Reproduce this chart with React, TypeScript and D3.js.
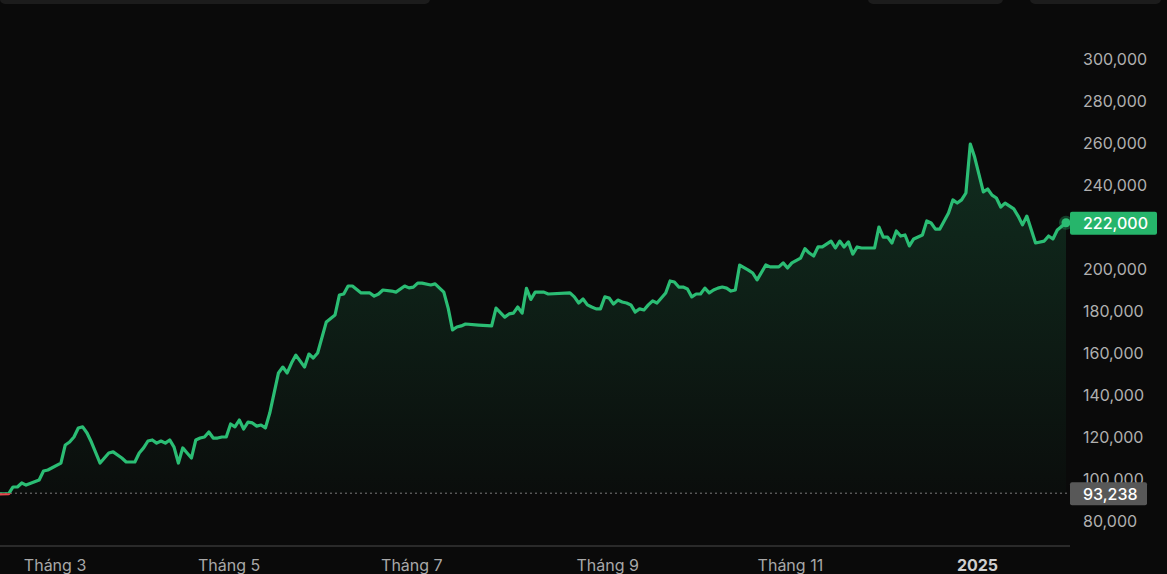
import React from "react";
import * as d3 from "d3";

// [bar index, closing price]
const closes: [number, number][] = [
  [0, 92900], [2, 93000], [3, 96200], [4, 96200], [5, 98100], [6, 97100], [9, 99500], [10, 103800],
  [11, 104300], [14, 107600], [15, 116200], [16, 117600], [17, 120000], [18, 124300], [19, 124800],
  [20, 121900], [21, 117600], [23, 107600], [25, 112400], [26, 112900], [28, 110000], [29, 108100],
  [31, 108100], [32, 112400], [33, 114800], [34, 118100], [35, 118600], [36, 117100], [37, 118100],
  [38, 117100], [39, 118600], [40, 115200], [41, 107600], [42, 114800], [43, 112400], [44, 110000],
  [45, 118600], [46, 119500], [47, 120000], [48, 122400], [49, 119500], [50, 119500], [51, 120000],
  [52, 120000], [53, 126200], [54, 124800], [55, 128100], [56, 123800], [57, 127100], [58, 126700],
  [59, 125200], [60, 125700], [61, 124300], [62, 131400], [64, 150500], [65, 153300], [66, 150500],
  [67, 155200], [68, 159000], [70, 153300], [71, 159500], [72, 157600], [73, 160000], [75, 174800],
  [77, 178100], [78, 187600], [79, 188100], [80, 191900], [81, 191900], [83, 188600], [85, 188600],
  [86, 187100], [87, 188100], [88, 190000], [90, 189500], [91, 189000], [93, 191900], [94, 191000],
  [95, 191400], [96, 193300], [97, 193300], [99, 192400], [100, 192900], [102, 189000], [103, 181400],
  [104, 171000], [105, 172400], [106, 172900], [107, 173800], [110, 173300], [113, 172900],
  [114, 181400], [116, 177100], [117, 178600], [118, 179000], [119, 181900], [120, 179000],
  [121, 190800], [122, 185500], [123, 189000], [125, 189000], [126, 188100], [131, 188600],
  [132, 186700], [133, 183800], [134, 185700], [135, 182900], [136, 181900], [137, 181000],
  [138, 181000], [139, 186700], [140, 186200], [141, 183300], [142, 185200], [143, 184300],
  [144, 183800], [145, 182900], [146, 179500], [147, 181000], [148, 180500], [149, 182900],
  [150, 184800], [151, 183800], [152, 186200], [153, 188600], [154, 194300], [155, 193800],
  [156, 191400], [157, 191400], [158, 190500], [159, 186700], [160, 188100], [161, 188100],
  [162, 190900], [163, 188600], [164, 190000], [165, 190900], [166, 191400], [167, 190900],
  [168, 189500], [169, 190000], [170, 201900], [172, 199500], [173, 198100], [174, 194800],
  [176, 201900], [177, 201000], [179, 201000], [180, 202900], [181, 200500], [182, 202900],
  [184, 205200], [185, 209700], [186, 207600], [187, 206200], [188, 210500], [189, 210500],
  [191, 213300], [192, 210000], [193, 213300], [194, 210500], [195, 212900], [196, 207100],
  [197, 210500], [198, 210000], [201, 210000], [202, 220000], [203, 215200], [204, 215200],
  [205, 212400], [206, 218100], [207, 215700], [208, 216200], [209, 211000], [210, 214300],
  [212, 216200], [213, 222900], [214, 221900], [215, 219000], [216, 219000], [218, 226700],
  [219, 232900], [220, 231400], [221, 232900], [222, 236200], [223, 259500], [224, 253300],
  [226, 236700], [227, 238100], [228, 235200], [229, 233800], [230, 229500], [231, 231400],
  [233, 228600], [234, 225200], [235, 221000], [236, 225200], [238, 212400], [240, 213300],
  [241, 215700], [242, 214300], [243, 218600], [245, 222000],
];

const baseValue = 93238;
const lastValue = 222000;
const lastBar = 245;

const monthLabels = ["Tháng 3", "Tháng 5", "Tháng 7", "Tháng 9", "Tháng 11", "2025"];
const monthBars = [13, 53, 95, 140, 182, 225];
const yearLabel = "2025";

const priceTicks = [80000, 100000, 120000, 140000, 160000, 180000, 200000, 220000, 240000, 260000, 280000, 300000];

const W = 1167;
const H = 574;
const PLOT_RIGHT = 1070;
const AXIS_Y = 546;
const GREEN = "#2bbd74";
const RED = "#e5484d";
const FONT = "Inter, 'Noto Sans', sans-serif";

export default function App() {
  const x = d3.scaleLinear().domain([0, lastBar]).range([0, 1066]);
  const y = d3.scaleLinear().domain([80000, 300000]).range([521, 59]);
  const fmt = d3.format(",");
  const yBase = y(baseValue);

  const line = d3
    .line<[number, number]>()
    .x((d) => x(d[0]))
    .y((d) => y(d[1]));
  const area = d3
    .area<[number, number]>()
    .x((d) => x(d[0]))
    .y0(yBase)
    .y1((d) => y(d[1]));

  const linePath = line(closes) || "";
  const areaPath = area(closes) || "";
  const lx = x(lastBar);
  const ly = y(lastValue);

  return (
    <svg
      width={W}
      height={H}
      style={{ position: "fixed", left: 0, top: 0, background: "#0a0a0a", display: "block" }}
      fontFamily={FONT}
    >
      <defs>
        <clipPath id="above">
          <rect x={0} y={0} width={PLOT_RIGHT} height={yBase} />
        </clipPath>
        <clipPath id="below">
          <rect x={0} y={yBase} width={PLOT_RIGHT} height={AXIS_Y - yBase} />
        </clipPath>
        <linearGradient id="gUp" gradientUnits="userSpaceOnUse" x1={0} y1={y(300000)} x2={0} y2={yBase}>
          <stop offset="0" stopColor={GREEN} stopOpacity={0.24} />
          <stop offset="1" stopColor={GREEN} stopOpacity={0.02} />
        </linearGradient>
        <linearGradient id="gDown" gradientUnits="userSpaceOnUse" x1={0} y1={yBase} x2={0} y2={AXIS_Y}>
          <stop offset="0" stopColor={RED} stopOpacity={0.05} />
          <stop offset="1" stopColor={RED} stopOpacity={0.2} />
        </linearGradient>
      </defs>

      <rect x={0} y={0} width={W} height={H} fill="#0a0a0a" />

      {/* top toolbar fragments */}
      <rect x={0} y={-8} width={430} height={12} rx={5} fill="#1c1c1c" />
      <rect x={868} y={-8} width={135} height={12} rx={5} fill="#1c1c1c" />
      <rect x={1030} y={-8} width={131} height={12} rx={5} fill="#1c1c1c" />

      {/* area fills */}
      <path d={areaPath} fill="url(#gUp)" clipPath="url(#above)" />
      <path d={areaPath} fill="url(#gDown)" clipPath="url(#below)" />

      {/* baseline */}
      <line x1={0} x2={PLOT_RIGHT} y1={yBase} y2={yBase} stroke="#7a7a7a" strokeWidth={1} strokeDasharray="2 3" />

      {/* price line */}
      <path d={linePath} fill="none" stroke={GREEN} strokeWidth={3.2} strokeLinejoin="round" strokeLinecap="round" clipPath="url(#above)" />
      <path d={linePath} fill="none" stroke={RED} strokeWidth={3.2} strokeLinejoin="round" strokeLinecap="round" clipPath="url(#below)" />

      {/* last point marker */}
      <circle cx={lx} cy={ly} r={7} fill={GREEN} fillOpacity={0.3} />
      <circle cx={lx} cy={ly} r={4.5} fill={GREEN} />

      {/* x axis */}
      <line x1={0} x2={PLOT_RIGHT} y1={AXIS_Y} y2={AXIS_Y} stroke="#4a4a4a" strokeWidth={1} />
      {monthLabels.map((lab, i) => (
        <text
          key={lab}
          x={x(monthBars[i]) - 1.5}
          y={565}
          textAnchor="middle"
          dominantBaseline="central"
          fontSize={16}
          fontWeight={lab === yearLabel ? 700 : 400}
          fill={lab === yearLabel ? "#cfcfcf" : "#a8a8a8"}
        >
          {lab}
        </text>
      ))}

      {/* y axis labels */}
      {priceTicks
        .filter((v) => v !== 220000)
        .map((v) => (
          <text key={v} x={1083} y={y(v)} dominantBaseline="central" fontSize={16} fill="#b0b0b0">
            {fmt(v)}
          </text>
        ))}

      {/* baseline label */}
      <rect x={1070} y={yBase - 11} width={77} height={23} rx={2} fill="#585858" />
      <text x={1083} y={yBase + 0.5} dominantBaseline="central" fontSize={16} fontWeight={500} fill="#ffffff">
        {fmt(baseValue)}
      </text>

      {/* last value label */}
      <rect x={1070} y={ly - 11} width={87} height={23} rx={2} fill="#26b56b" />
      <text x={1083} y={ly + 0.5} dominantBaseline="central" fontSize={16} fontWeight={500} fill="#ffffff">
        {fmt(lastValue)}
      </text>
    </svg>
  );
}
